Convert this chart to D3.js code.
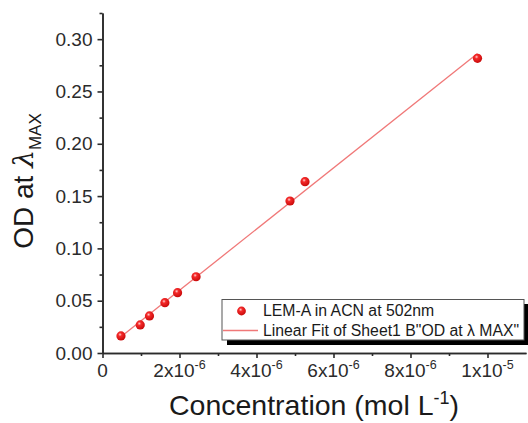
<!DOCTYPE html>
<html><head><meta charset="utf-8">
<script src="https://cdn.jsdelivr.net/npm/d3@7"></script>
<style>html,body{margin:0;padding:0;background:#fff;}svg{display:block;}</style>
</head><body>
<script>
// ---- data ----
const concentration = [0.48e-6, 0.98e-6, 1.22e-6, 1.62e-6, 1.95e-6, 2.43e-6, 4.87e-6, 5.26e-6, 9.74e-6];
const od = [0.0163, 0.0268, 0.0354, 0.0481, 0.0577, 0.0729, 0.1453, 0.1638, 0.2817];
const xTickValues = [0, 2e-6, 4e-6, 6e-6, 8e-6, 1e-5];
const xTickMantissa = ["0", "2x10", "4x10", "6x10", "8x10", "1x10"];
const xTickExponent = ["", "-6", "-6", "-6", "-6", "-5"];
const yTickValues = [0, 0.05, 0.10, 0.15, 0.20, 0.25, 0.30];
const legendLabels = ["LEM-A in ACN at 502nm", "Linear Fit of Sheet1 B\"OD at \u03bb MAX\""];

const W = 528, H = 423;
const svg = d3.select("body").append("svg").attr("width", W).attr("height", H);
const font = "'Liberation Sans', Arial, sans-serif";
const axisColor = "#2b2b2b";

const x = d3.scaleLinear().domain([0, 1.1e-5]).range([102.5, 526]);
const y = d3.scaleLinear().domain([0, 0.325]).range([353, 13]);

// gradient for spheres
const defs = svg.append("defs");
const grad = defs.append("radialGradient").attr("id", "ball").attr("cx", "40%").attr("cy", "35%").attr("r", "65%");
grad.append("stop").attr("offset", "0%").attr("stop-color", "#ffd0d0");
grad.append("stop").attr("offset", "30%").attr("stop-color", "#f52a2a");
grad.append("stop").attr("offset", "100%").attr("stop-color", "#c80a0a");

// axes
const yAxis = d3.axisLeft(y).tickValues(yTickValues).tickFormat(d3.format(".2f")).tickSizeInner(5).tickSizeOuter(0).tickPadding(5);
const yMinor = d3.axisLeft(y).tickValues(d3.range(0.025, 0.33, 0.05)).tickFormat("").tickSizeInner(3).tickSizeOuter(0);
const xAxis = d3.axisBottom(x).tickValues(xTickValues).tickFormat("").tickSizeInner(5).tickSizeOuter(0);
const xMinor = d3.axisBottom(x).tickValues(d3.range(1e-6, 1.05e-5, 2e-6)).tickFormat("").tickSizeInner(3).tickSizeOuter(0);

function styleAxis(g) {
  g.selectAll("path,line").attr("stroke", axisColor).attr("stroke-width", 1.6);
  g.selectAll("text").attr("fill", axisColor).style("font-family", font).style("font-size", "19px");
}
svg.append("g").attr("transform", `translate(${x(0)},0)`).call(yAxis).call(styleAxis);
svg.append("g").attr("transform", `translate(${x(0)},0)`).call(yMinor).call(styleAxis);
svg.append("g").attr("transform", `translate(0,${y(0)})`).call(xAxis).call(styleAxis);
svg.append("g").attr("transform", `translate(0,${y(0)})`).call(xMinor).call(styleAxis);

// x tick labels with superscripts
xTickValues.forEach((v, i) => {
  const t = svg.append("text").attr("x", x(v)).attr("y", 377)
    .attr("text-anchor", "middle").attr("fill", axisColor)
    .style("font-family", font).style("font-size", "19px");
  t.append("tspan").text(xTickMantissa[i]);
  if (xTickExponent[i]) t.append("tspan").attr("dy", -8).style("font-size", "12.5px").text(xTickExponent[i]);
});

// fit line (least squares on data)
const mx = d3.mean(concentration), my = d3.mean(od);
const slope = d3.sum(concentration, (c, i) => (c - mx) * (od[i] - my)) / d3.sum(concentration, c => (c - mx) ** 2);
const intercept = my - slope * mx;
const xExt = d3.extent(concentration);
svg.append("line")
  .attr("x1", x(xExt[0])).attr("y1", y(intercept + slope * xExt[0]))
  .attr("x2", x(xExt[1])).attr("y2", y(intercept + slope * xExt[1]))
  .attr("stroke", "#f07878").attr("stroke-width", 1.3);

// points
svg.append("g").selectAll("circle").data(concentration).join("circle")
  .attr("cx", d => x(d)).attr("cy", (d, i) => y(od[i])).attr("r", 4.6)
  .attr("fill", "url(#ball)");

// axis titles
const xt = svg.append("text").attr("x", 314).attr("y", 415).attr("text-anchor", "middle")
  .attr("fill", "#1a1a1a").style("font-family", font).style("font-size", "28.5px");
xt.append("tspan").text("Concentration (mol L");
xt.append("tspan").attr("dy", -11).style("font-size", "18px").text("-1");
xt.append("tspan").attr("dy", 11).text(")");

const yt = svg.append("text").attr("transform", "translate(33,181) rotate(-90)").attr("text-anchor", "middle")
  .attr("fill", "#1a1a1a").style("font-family", font).style("font-size", "28px");
yt.append("tspan").text("OD at ");
yt.append("tspan").style("font-family", "'DejaVu Serif', serif").style("font-style", "italic").style("font-size", "28px").text("\u03bb");
yt.append("tspan").attr("dy", 8).style("font-size", "17px").text("MAX");

// legend
const lg = svg.append("g");
lg.append("rect").attr("x", 227).attr("y", 304).attr("width", 302).attr("height", 41).attr("fill", "#000");
lg.append("rect").attr("x", 222).attr("y", 299.5).attr("width", 302).attr("height", 40.5).attr("fill", "#fff").attr("stroke", "#555").attr("stroke-width", 1);
lg.append("circle").attr("cx", 241.5).attr("cy", 311).attr("r", 4.4).attr("fill", "url(#ball)");
lg.append("line").attr("x1", 223).attr("x2", 258).attr("y1", 330.5).attr("y2", 330.5).attr("stroke", "#f07878").attr("stroke-width", 1.3);
legendLabels.forEach((s, i) => {
  lg.append("text").attr("x", 263).attr("y", 316 + i * 20).text(s)
    .attr("fill", "#1a1a1a").style("font-family", font).style("font-size", "15.8px");
});
</script>
</body></html>
